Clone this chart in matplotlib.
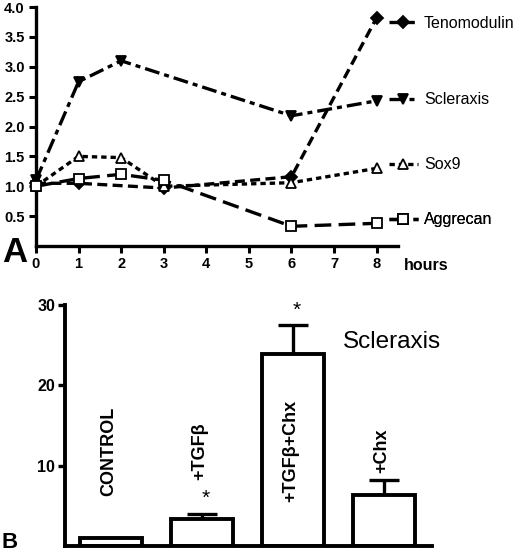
import numpy as np
import matplotlib
matplotlib.use('Agg')
import matplotlib.pyplot as plt

plt.rcParams['font.family'] = ['Liberation Sans', 'DejaVu Sans']

# panel A: time course (hours)
teno_t = [0, 1, 3, 6, 8]
teno_v = [1.05, 1.05, 0.97, 1.16, 3.82]
scx_t = [0, 1, 2, 6, 8]
scx_v = [1.10, 2.75, 3.10, 2.18, 2.43]
sox_t = [0, 1, 2, 3, 6, 8]
sox_v = [1.00, 1.50, 1.48, 1.00, 1.06, 1.30]
agg_t = [0, 1, 2, 3, 6, 8]
agg_v = [1.00, 1.13, 1.20, 1.10, 0.33, 0.38]

# panel B: scleraxis bars
groups = ['CONTROL', '+TGF\u03b2', '+TGF\u03b2+Chx', '+Chx']
means = [1.0, 3.35, 23.85, 6.35]
errs = [0.0, 0.65, 3.65, 1.85]
signif = [False, True, True, False]

fig = plt.figure(figsize=(5.2, 5.52), dpi=100)

# ---- panel A
ax = fig.add_axes([0.0692, 0.5543, 0.696, 0.433])
series = [
    ('Tenomodulin', teno_t, teno_v, 'D', 'black', (3.0, 1.6)),
    ('Scleraxis', scx_t, scx_v, 'v', 'black', (4.5, 1.5, 1.5, 1.5)),
    ('Sox9', sox_t, sox_v, '^', 'white', (1.6, 1.2)),
    ('Aggrecan', agg_t, agg_v, 's', 'white', (5.0, 2.2)),
]
leg_y = [0.933, 0.611, 0.339, 0.109]
handles = []
for name, t, v, mk, fc, ds in series:
    ln, = ax.plot(t, v, color='black', lw=2.4, dashes=ds, marker=mk,
                  markersize=7 if mk != 'D' else 6, markerfacecolor=fc,
                  markeredgecolor='black', markeredgewidth=1.3, clip_on=False,
                  zorder=3)
    handles.append((ln, name))

for (ln, name), y in zip(handles, leg_y):
    lg = ax.legend([ln], [name], loc='center left', bbox_to_anchor=(0.975, y),
                   frameon=False, fontsize=11.5, handlelength=1.8,
                   handletextpad=0.4, borderpad=0, borderaxespad=0)
    ax.add_artist(lg)

ax.set_xlim(0, 8.5)
ax.set_ylim(0, 4.0)
ax.set_xticks(range(0, 9))
ax.set_yticks(np.arange(0.5, 4.01, 0.5))
ax.set_yticklabels(['%.1f' % y for y in np.arange(0.5, 4.01, 0.5)])
for s in ['top', 'right']:
    ax.spines[s].set_visible(False)
for s in ['left', 'bottom']:
    ax.spines[s].set_linewidth(2.4)
ax.tick_params(width=2.2, length=5, labelsize=10.5, pad=3)
for lab in ax.get_xticklabels() + ax.get_yticklabels():
    lab.set_fontweight('bold')

fig.text(0.004, 0.525, 'A', fontsize=25, fontweight='bold', va='baseline')
fig.text(0.777, 0.511, 'hours', fontsize=11.5, fontweight='bold', va='baseline')

# ---- panel B
bx = fig.add_axes([0.125, 0.0109, 0.706, 0.4366])
x = np.arange(len(groups))
bx.bar(x, means, width=0.68, color='white', edgecolor='black', linewidth=2.8,
       zorder=2)
bx.errorbar(x, means, yerr=[np.zeros(len(errs)), errs], fmt='none',
            ecolor='black', elinewidth=2.4, capsize=11, capthick=2.4, zorder=1)
for i, g in enumerate(groups):
    bx.text(i - 0.02, 11.8, g, rotation=90, ha='center', va='center',
            fontsize=13, fontweight='bold', zorder=4)
    if signif[i]:
        bx.text(i + 0.04, means[i] + errs[i] + 0.7, '*', ha='center',
                va='bottom', fontsize=15)
bx.text(2.55, 24.6, 'Scleraxis', fontsize=17.5, va='baseline')

bx.set_xlim(-0.505, 3.53)
bx.set_ylim(0, 30)
bx.set_yticks([10, 20, 30])
bx.set_xticks([])
for s in ['top', 'right']:
    bx.spines[s].set_visible(False)
for s in ['left', 'bottom']:
    bx.spines[s].set_linewidth(2.8)
bx.tick_params(axis='y', width=2.4, length=5, labelsize=11.5, pad=2)
for lab in bx.get_yticklabels():
    lab.set_fontweight('bold')

fig.text(0.002, 0.007, 'B', fontsize=16, fontweight='bold', va='baseline')

fig.savefig('out.png', dpi=100)
